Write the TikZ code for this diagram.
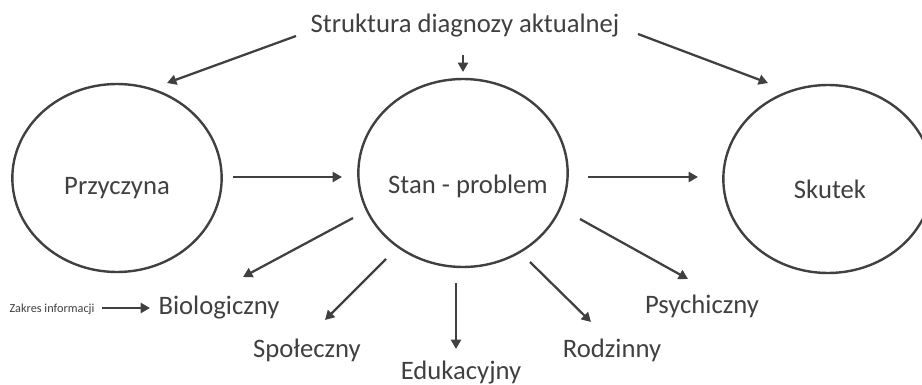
\documentclass[tikz,border=0pt]{standalone}
\usepackage{fontspec}
\setmainfont{Carlito}
\usetikzlibrary{arrows.meta,positioning,shapes.geometric}
\definecolor{szary}{RGB}{64,64,64}
\tikzset{
  krag/.style={draw=szary, ellipse, line width=1.8pt, inner sep=0pt,
               minimum width=157pt, minimum height=141pt},
  etykieta/.style={font=\fontsize{20}{24}\selectfont, text=szary,
                   inner sep=0pt, anchor=base},
  drobna/.style={font=\fontsize{9.2}{11}\selectfont, text=szary,
                 inner sep=0pt, anchor=base},
  strz/.style={draw=szary, line width=1.7pt, -{Triangle[length=7pt,width=7.5pt]}},
}
\begin{document}
\begin{tikzpicture}[x=0.75pt, y=-0.75pt]
\useasboundingbox (0,0) rectangle (922,385);

% Title
\node[etykieta] (tytul) at (465,33) {Struktura diagnozy aktualnej};

% Three circles
\node[krag, label={[etykieta, yshift=-7.5pt]center:Przyczyna}] (przyczyna) at (117,178) {};
\node[krag, label={[etykieta, xshift=3.75pt, yshift=-9.75pt]center:Stan - problem}] (stan) at (463,173) {};
\node[krag, label={[etykieta, xshift=1.5pt, yshift=-7.5pt]center:Skutek}] (skutek) at (828,179) {};

% Title arrows
\draw[strz] ([shift={(-169,3)}]tytul.base) -- ([shift={(50,-95)}]przyczyna.center);
\draw[strz] ([shift={(-2,22)}]tytul.base) -- ([shift={(0,-101)}]stan.center);
\draw[strz] ([shift={(173,1)}]tytul.base) -- ([shift={(-60,-96)}]skutek.center);

% Cause -> state -> effect
\draw[strz] ([shift={(116,-1)}]przyczyna.center) -- ([shift={(-121,4)}]stan.center);
\draw[strz] ([shift={(125,4)}]stan.center) -- ([shift={(-130,-2)}]skutek.center);

% Areas
\node[etykieta] (bio) at (219,314) {Biologiczny};
\node[etykieta] (spol) at (307,357) {Społeczny};
\node[etykieta] (eduk) at (461,379) {Edukacyjny};
\node[etykieta] (rodz) at (612,357) {Rodzinny};
\node[etykieta] (psych) at (702,313) {Psychiczny};
\node[drobna] (zakres) at (52,312) {Zakres informacji};

\draw[strz] ([shift={(-110,45)}]stan.center) -- ([shift={(24,-37)}]bio.base);
\draw[strz] ([shift={(-77,86)}]stan.center) -- ([shift={(18,-37)}]spol.base);
\draw[strz] ([shift={(-7,110)}]stan.center) -- ([shift={(-5,-30)}]eduk.base);
\draw[strz] ([shift={(67,89)}]stan.center) -- ([shift={(-21,-35)}]rodz.base);
\draw[strz] ([shift={(117,46)}]stan.center) -- ([shift={(-14,-34)}]psych.base);
\draw[strz] ([shift={(50,-4)}]zakres.base) -- ([shift={(-69,-6)}]bio.base);

\end{tikzpicture}
\end{document}
